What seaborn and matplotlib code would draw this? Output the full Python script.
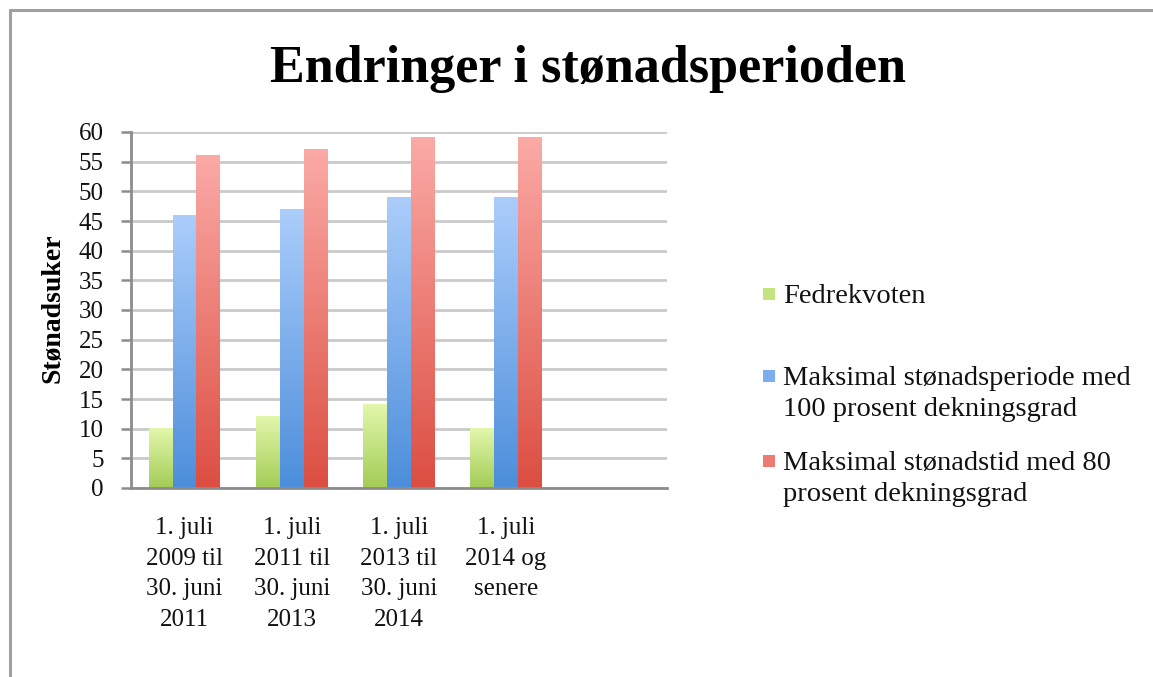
import numpy as np
import pandas as pd
import matplotlib
matplotlib.use("Agg")
import matplotlib.pyplot as plt
import seaborn as sns
from matplotlib.colors import LinearSegmentedColormap
from matplotlib.lines import Line2D
from matplotlib.patches import Rectangle

# ---------------- data ----------------
categories = [
    "1. juli\n2009 til\n30. juni\n2011",
    "1. juli\n2011 til\n30. juni\n2013",
    "1. juli\n2013 til\n30. juni\n2014",
    "1. juli\n2014 og\nsenere",
]
series = [
    "Fedrekvoten",
    "Maksimal stønadsperiode med\n100 prosent dekningsgrad",
    "Maksimal stønadstid med 80\nprosent dekningsgrad",
]
fedrekvoten = [10, 12, 14, 10]
maks_100 = [46, 47, 49, 49]
maks_80 = [56, 57, 59, 59]
yticks = list(range(0, 61, 5))

title = "Endringer i stønadsperioden"
ylabel = "Stønadsuker"

top_colors = ["#e2f7ab", "#abcdfb", "#fbaaa6"]
bottom_colors = ["#a3cc56", "#4c8edb", "#dc4e42"]
mid_colors = ["#c4e47f", "#7aaeee", "#ec7c74"]

df = pd.DataFrame({
    "kategori": categories * 3,
    "serie": [series[0]] * 4 + [series[1]] * 4 + [series[2]] * 4,
    "verdi": fedrekvoten + maks_100 + maks_80,
})

# ---------------- style ----------------
sns.set_style("white")
plt.rcParams["font.family"] = ["Liberation Serif", "DejaVu Serif"]

W, H = 1153, 677
fig = plt.figure(figsize=(W / 100, H / 100), dpi=100)
ax = fig.add_axes([131 / W, 1 - 488 / H, (666.7 - 131) / W, (488 - 132) / H])

sns.barplot(data=df, x="kategori", y="verdi", hue="serie", order=categories,
            hue_order=series, palette=mid_colors, width=0.667, saturation=1,
            edgecolor="none", linewidth=0, legend=False, ax=ax)

grad = np.linspace(0, 1, 256).reshape(-1, 1)
for i, cont in enumerate(ax.containers):
    cmap = LinearSegmentedColormap.from_list(f"g{i}", [bottom_colors[i], top_colors[i]])
    for bar in cont:
        x0, y0 = bar.get_x(), bar.get_y()
        w, h = bar.get_width(), bar.get_height()
        ax.imshow(grad, cmap=cmap, extent=(x0, x0 + w, y0, y0 + h),
                  aspect="auto", origin="lower", zorder=2, interpolation="bilinear")
        bar.set_facecolor("none")

ax.set_xlim(-0.5, 4.5)
ax.set_ylim(0, 60)
ax.set_yticks(yticks)
ax.set_yticklabels([str(v) for v in yticks], fontsize=18)
ax.set_xticks(range(len(categories)))
ax.set_xticklabels(categories, fontsize=18, va="top")
for t in ax.get_xticklabels():
    t.set_linespacing(1.5)
ax.set_xlabel("")
ax.set_ylabel("")

ax.set_axisbelow(True)
ax.yaxis.grid(True, color="#cacaca", linewidth=2)
ax.xaxis.grid(False)
for s in ["top", "right"]:
    ax.spines[s].set_visible(False)
for s in ["left", "bottom"]:
    ax.spines[s].set_color("#8c8c8c")
    ax.spines[s].set_linewidth(2)
ax.tick_params(axis="y", direction="out", length=7.5, width=1.8, color="#8c8c8c",
               pad=12, left=True, labelcolor="#111111")
ax.tick_params(axis="x", length=0, pad=21, labelcolor="#111111")

# title and y label
fig.text(587.5 / W, 1 - 69 / H, title, ha="center", va="center",
         fontsize=37.5, fontweight="bold", color="#000000")
fig.text(53 / W, 1 - 308 / H, ylabel, ha="center", va="center", rotation=90,
         fontsize=20, fontweight="bold", color="#000000")

# legend (handle aligned with first line of each entry)
legend_first_line_y = [295, 377, 462]
for i, lab in enumerate(series):
    yc = legend_first_line_y[i]
    fig.patches.append(Rectangle((763 / W, 1 - (yc + 5) / H), 12 / W, 12 / H,
                                 transform=fig.transFigure, facecolor=mid_colors[i],
                                 edgecolor="none"))
    fig.text(783 / W, 1 - (yc - 11) / H, lab, ha="left", va="top",
             fontsize=20.5, linespacing=1.32, color="#111111")

# outer frame (top and left)
fig.lines.append(Line2D([10 / W, 1.0], [1 - 10 / H, 1 - 10 / H], transform=fig.transFigure,
                        color="#a0a0a0", linewidth=2.2))
fig.lines.append(Line2D([10 / W, 10 / W], [0, 1 - 10 / H], transform=fig.transFigure,
                        color="#a0a0a0", linewidth=2.2))

fig.savefig("out.png", dpi=100)
